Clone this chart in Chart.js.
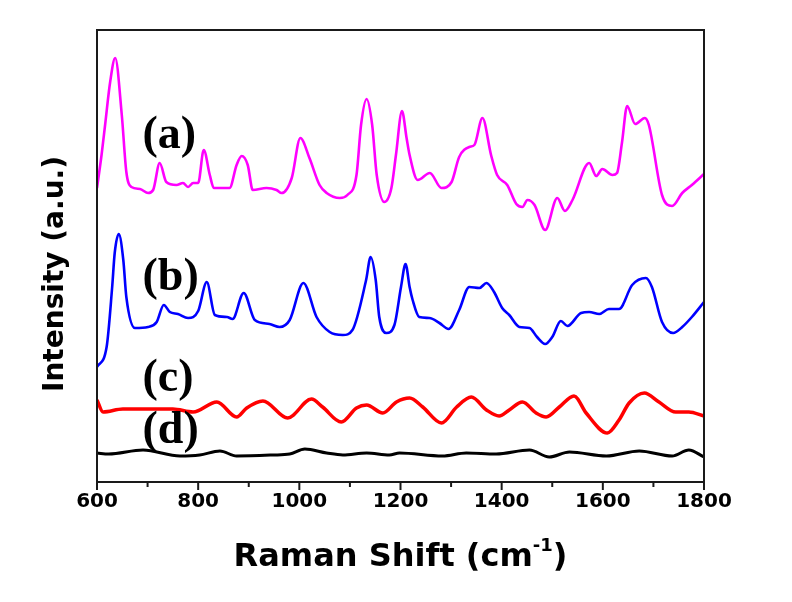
<!DOCTYPE html>
<html>
<head>
<meta charset="utf-8">
<script src="https://cdn.jsdelivr.net/npm/chart.js@4.4.1/dist/chart.umd.min.js"></script>
<style>
  html, body { margin: 0; padding: 0; background: #fff; }
</style>
</head>
<body>
<canvas id="ramanChart" width="792" height="602"></canvas>
<script>
/* Data (arbitrary intensity units) */
const shiftA = [600, 609, 616, 626, 636, 649, 658, 668, 685, 701, 711, 724, 737, 757, 770, 780, 790, 800, 811, 823,
    831, 849, 862, 876, 886, 898, 908, 935, 955, 965, 985, 1002, 1020, 1040, 1054, 1080, 1095, 1113, 1122, 1133,
    1144, 1153, 1168, 1182, 1191, 1203, 1212, 1218, 1234, 1258, 1281, 1301, 1316, 1336, 1346, 1362, 1379, 1391, 1411, 1429,
    1441, 1451, 1465, 1486, 1510, 1525, 1540, 1573, 1587, 1599, 1619, 1628, 1638, 1648, 1664, 1683, 1691, 1717, 1737, 1757,
    1776, 1800];
const intA = [294, 327, 357, 400, 424, 367, 310, 295, 293, 289, 292, 319, 300, 297, 299, 295, 299, 299, 332, 307,
    294, 294, 294, 317, 326, 317, 292, 294, 292, 289, 304, 344, 324, 297, 289, 284, 287, 307, 357, 383,
    357, 307, 280, 294, 327, 371, 344, 327, 302, 309, 294, 300, 325, 335, 337, 364, 327, 307, 297, 278,
    275, 282, 277, 252, 284, 271, 282, 319, 306, 313, 307, 309, 340, 376, 358, 364, 357, 287, 276, 289,
    297, 308];

const shiftB = [600, 619, 630, 635, 643, 652, 658, 675, 701, 718, 732, 744, 760, 780, 800, 817, 833, 857, 868, 890,
    912, 941, 961, 981, 1008, 1034, 1060, 1086, 1105, 1132, 1141, 1151, 1158, 1172, 1188, 1201, 1210, 1218, 1224, 1237,
    1257, 1277, 1295, 1316, 1336, 1356, 1370, 1385, 1401, 1415, 1435, 1455, 1470, 1486, 1500, 1517, 1530, 1557, 1573, 1593,
    1612, 1632, 1658, 1685, 1697, 1717, 1739, 1757, 1776, 1800];
const intB = [115, 135, 195, 229, 248, 222, 185, 154, 155, 160, 177, 170, 168, 164, 171, 200, 167, 165, 163, 189,
    162, 158, 155, 162, 199, 165, 150, 147, 152, 202, 225, 202, 165, 149, 157, 195, 218, 195, 182, 165,
    164, 159, 153, 172, 195, 194, 199, 190, 174, 167, 155, 154, 145, 138, 145, 161, 156, 169, 170, 168,
    173, 173, 197, 204, 195, 160, 149, 155, 165, 180];

const shiftC = [600, 612, 651, 718, 750, 790, 837, 876, 896, 928, 977, 1024, 1046, 1083, 1113, 1133, 1165, 1192, 1218, 1244,
    1281, 1311, 1340, 1370, 1395, 1415, 1441, 1468, 1488, 1514, 1543, 1567, 1609, 1632, 1652, 1682, 1711, 1744, 1770, 1800];
const intC = [82, 70, 73, 73, 73, 70, 80, 65, 74, 81, 64, 83, 75, 60, 74, 77, 69, 80, 84, 75,
    59, 75, 85, 72, 66, 72, 80, 69, 65, 75, 86, 69, 49, 62, 79, 89, 80, 70, 70, 66];

const shiftD = [600, 623, 691, 764, 803, 843, 876, 948, 981, 1011, 1054, 1086, 1133, 1178, 1198, 1283, 1330, 1389, 1455, 1494,
    1534, 1607, 1672, 1737, 1770, 1800];
const intD = [29, 28, 32, 26, 27, 31, 26, 27, 28, 33, 29, 27, 29, 27, 29, 26, 29, 28, 32, 25,
    30, 26, 31, 26, 32, 25];

const seriesNames = ["(a)", "(b)", "(c)", "(d)"];
const xMin = 600, xMax = 1800, xMinorStep = 100, xLabelStep = 200;
const yMin = 0, yMax = 452;

/* Utilities */
function toPoints(xs, ys) {
    return xs.map((v, i) => ({ x: v, y: ys[i] }));
}

function spectrum(label, xs, ys, color, width) {
    return {
        label: label,
        data: toPoints(xs, ys),
        showLine: true,
        borderColor: color,
        borderWidth: width,
        pointRadius: 0,
        fill: false,
        cubicInterpolationMode: "monotone",
    };
}

// where the (a)..(d) tags sit, in data units
const tagAnchors = [
    { shift: 690, intensity: 334 },
    { shift: 690, intensity: 192 },
    { shift: 690, intensity: 91 },
    { shift: 690, intensity: 39 },
];

const sansBold = '"DejaVu Sans", "Liberation Sans", Arial, sans-serif';

/* Frame, ticks, titles and tags */
const decorations = {
    id: "decorations",
    afterDatasetsDraw(chart) {
        const { ctx, chartArea: a, scales: { x, y } } = chart;
        ctx.save();

        // box
        ctx.strokeStyle = "#1a1a1a";
        ctx.lineWidth = 2;
        ctx.strokeRect(a.left, a.top, a.right - a.left, a.bottom - a.top);

        // outward ticks on the bottom axis
        x.ticks.forEach(t => {
            const px = x.getPixelForValue(t.value);
            const len = t.value % xLabelStep === 0 ? 8 : 5;
            ctx.beginPath();
            ctx.moveTo(px, a.bottom);
            ctx.lineTo(px, a.bottom + len);
            ctx.stroke();
        });

        // series tags
        ctx.fillStyle = "#000";
        ctx.font = 'bold 46px "Liberation Serif", "Times New Roman", serif';
        ctx.textBaseline = "alphabetic";
        ctx.textAlign = "left";
        seriesNames.forEach((name, i) => {
            const t = tagAnchors[i];
            ctx.fillText(name, x.getPixelForValue(t.shift), y.getPixelForValue(t.intensity));
        });

        // x title with superscript
        const main = "Raman Shift (cm", sup = "-1", close = ")";
        ctx.font = "bold 32px " + sansBold;
        const w1 = ctx.measureText(main).width;
        const w3 = ctx.measureText(close).width;
        ctx.font = "bold 18px " + sansBold;
        const w2 = ctx.measureText(sup).width;
        const cx = (a.left + a.right) / 2;
        let sx = cx - (w1 + w2 + w3) / 2;
        const base = 566;
        ctx.font = "bold 32px " + sansBold;
        ctx.fillText(main, sx, base);
        sx += w1;
        ctx.font = "bold 18px " + sansBold;
        ctx.fillText(sup, sx, base - 15);
        sx += w2;
        ctx.font = "bold 32px " + sansBold;
        ctx.fillText(close, sx, base);

        // y title
        ctx.translate(63, 274);
        ctx.rotate(-Math.PI / 2);
        ctx.textAlign = "center";
        ctx.font = "bold 28px " + sansBold;
        ctx.fillText("Intensity (a.u.)", 0, 0);

        ctx.restore();
    }
};

/* Chart */
new Chart(document.getElementById("ramanChart"), {
    type: "scatter",
    data: {
        datasets: [
            spectrum(seriesNames[3], shiftD, intD, "#000000", 3),
            spectrum(seriesNames[2], shiftC, intC, "#ff0000", 3.5),
            spectrum(seriesNames[1], shiftB, intB, "#0000ff", 2.6),
            spectrum(seriesNames[0], shiftA, intA, "#ff00ff", 2.6),
        ]
    },
    options: {
        responsive: false,
        animation: false,
        layout: { padding: { left: 97, right: 88, top: 30, bottom: 0 } },
        plugins: {
            legend: { display: false },
            tooltip: { enabled: false },
        },
        scales: {
            x: {
                type: "linear",
                min: xMin,
                max: xMax,
                afterFit: (scale) => { scale.height = 120; },
                border: { display: false },
                grid: { display: false, drawTicks: false },
                ticks: {
                    stepSize: xMinorStep,
                    autoSkip: false,
                    maxRotation: 0,
                    padding: 8,
                    color: "#000",
                    font: { family: sansBold, size: 20, weight: "bold" },
                    callback: (v) => v % xLabelStep === 0 ? String(v) : "",
                },
            },
            y: {
                display: false,
                min: yMin,
                max: yMax,
            },
        },
    },
    plugins: [decorations],
});
</script>
</body>
</html>
